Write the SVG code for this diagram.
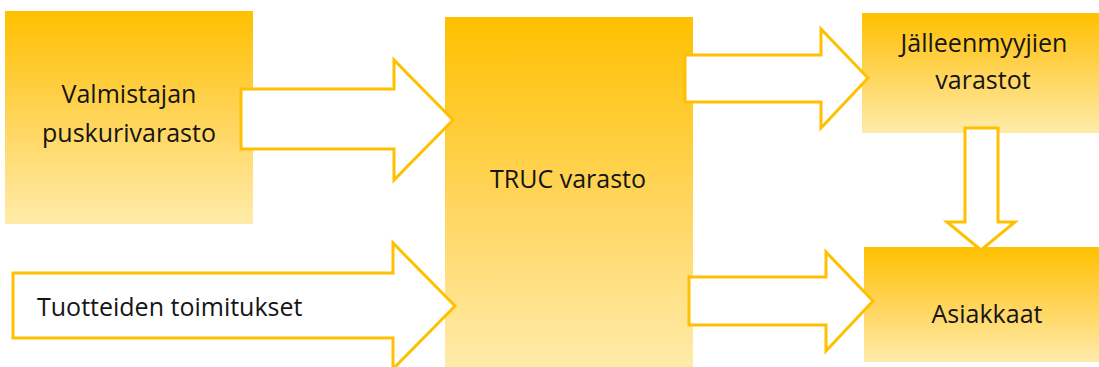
<svg xmlns="http://www.w3.org/2000/svg" width="1099" height="367" viewBox="0 0 1099 367">
  <defs>
    <linearGradient id="gold" x1="0" y1="0" x2="0" y2="1">
      <stop offset="0" stop-color="#FFC000"/>
      <stop offset="0.5" stop-color="#FFD458"/>
      <stop offset="1" stop-color="#FFEBAA"/>
    </linearGradient>
    <style>
      .box { fill: url(#gold); }
      .arrow { fill: #FFFFFF; stroke: #FFC000; stroke-width: 3; stroke-linejoin: miter; }
      .lbl { font-family: "Open Sans", "Liberation Sans", sans-serif; font-size: 25px; fill: #151515; text-anchor: middle; }
      .lbl-start { text-anchor: start; }
    </style>
  </defs>
  <rect width="1099" height="367" fill="#FFFFFF"/>

  <g id="node-valmistajan">
    <rect class="box" x="5" y="11" width="248" height="213"/>
    <text class="lbl" x="129" y="103">Valmistajan</text>
    <text class="lbl" x="129" y="142">puskurivarasto</text>
  </g>

  <g id="node-truc">
    <rect class="box" x="445" y="17" width="248" height="352"/>
    <text class="lbl" x="568" y="188">TRUC varasto</text>
  </g>

  <g id="node-jalleenmyyjat">
    <rect class="box" x="862" y="13" width="237" height="120"/>
    <text class="lbl" x="984" y="52">Jälleenmyyjien</text>
    <text class="lbl" x="983" y="89">varastot</text>
  </g>

  <g id="node-asiakkaat">
    <rect class="box" x="864" y="247" width="235" height="115"/>
    <text class="lbl" x="987" y="323">Asiakkaat</text>
  </g>

  <g id="connectors">
    <polygon class="arrow" points="241,89 394,89 394,60 453,120 394,180 394,149 241,149"/>
    <polygon class="arrow" points="13,273 393,273 393,243 455,306 393,369 393,338 13,338"/>
    <text class="lbl lbl-start" x="37" y="316">Tuotteiden toimitukset</text>
    <polygon class="arrow" points="685,55 821,55 821,29 868,78 821,128 821,102 685,102"/>
    <polygon class="arrow" points="689,277 826,277 826,252 873,301 826,351 826,325 689,325"/>
    <polygon class="arrow" points="965,128 998,128 998,222 1015,222 981,250 947,222 965,222"/>
  </g>
</svg>
